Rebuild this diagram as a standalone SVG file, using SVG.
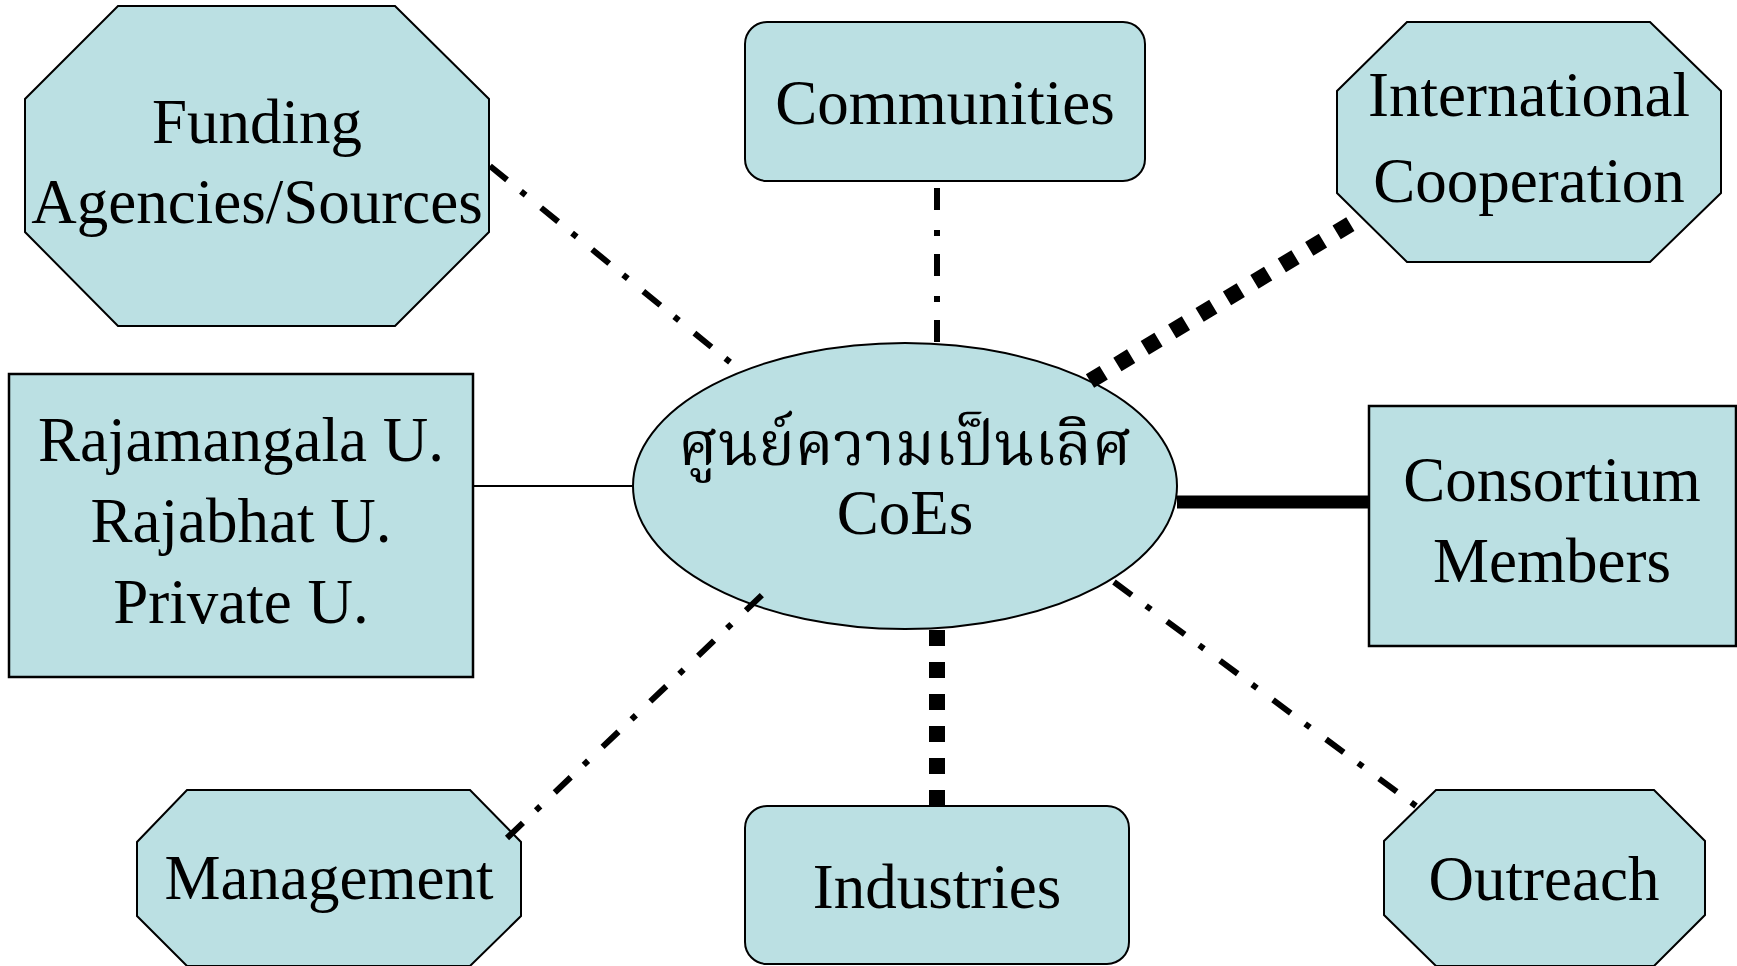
<svg xmlns="http://www.w3.org/2000/svg" width="1737" height="966" viewBox="0 0 1737 966">
<style>
.n{fill:#BBE0E3;stroke:#000;stroke-width:2}
.t{font-family:"Liberation Serif","Times New Roman",serif;font-size:63px;fill:#000;text-anchor:middle}
.th{font-family:"Liberation Serif","Noto Serif Thai","Noto Sans Thai","Noto Sans",serif;font-size:61px;fill:#000;text-anchor:middle}
.dd{fill:none;stroke:#000;stroke-width:6;stroke-dasharray:22 18 6 20}
.sq{fill:none;stroke:#000;stroke-width:16;stroke-dasharray:16 16}
</style>
<rect width="1737" height="966" fill="#fff"/>
<g id="center">
<ellipse class="n" cx="905" cy="486" rx="272" ry="143"/>
<text class="th" x="905" y="465">ศูนย์ความเป็นเลิศ</text>
<text class="t" x="905" y="534">CoEs</text>
</g>
<g id="funding">
<polygon class="n" points="118,6 395,6 489,99 489,232 395,326 118,326 25,232 25,99"/>
<text class="t" x="257" y="143">Funding</text>
<text class="t" x="257" y="223">Agencies/Sources</text>
</g>
<g id="communities">
<rect class="n" x="745" y="22" width="400" height="159" rx="22"/>
<text class="t" x="945" y="124">Communities</text>
</g>
<g id="international">
<polygon class="n" points="1407,22 1650,22 1721,91 1721,193 1650,262 1407,262 1337,193 1337,91"/>
<text class="t" x="1529" y="116">International</text>
<text class="t" x="1529" y="202">Cooperation</text>
</g>
<g id="universities">
<rect class="n" x="9" y="374" width="464" height="303" style="stroke-width:2.5"/>
<text class="t" x="241" y="461">Rajamangala U.</text>
<text class="t" x="241" y="542">Rajabhat U.</text>
<text class="t" x="241" y="623">Private U.</text>
</g>
<g id="consortium">
<rect class="n" x="1369" y="406" width="367" height="240" style="stroke-width:2.5"/>
<text class="t" x="1552" y="501">Consortium</text>
<text class="t" x="1552" y="582">Members</text>
</g>
<g id="management">
<polygon class="n" points="187,790 470,790 521,842 521,916 470,966 187,966 137,916 137,842"/>
<text class="t" x="329" y="899">Management</text>
</g>
<g id="industries">
<rect class="n" x="745" y="806" width="384" height="158" rx="22"/>
<text class="t" x="937" y="908">Industries</text>
</g>
<g id="outreach">
<polygon class="n" points="1436,790 1654,790 1705,841 1705,915 1654,966 1436,966 1384,915 1384,841"/>
<text class="t" x="1544" y="900">Outreach</text>
</g>
<g id="connectors">
<line x1="473" y1="486" x2="633" y2="486" stroke="#000" stroke-width="2"/>
<line x1="1177" y1="502" x2="1369" y2="502" stroke="#000" stroke-width="13"/>
<line class="dd" x1="490" y1="166" x2="731" y2="363"/>
<line class="dd" x1="937" y1="342" x2="937" y2="182"/>
<line class="dd" x1="507" y1="838" x2="762" y2="595"/>
<line class="dd" x1="1114" y1="582" x2="1416" y2="806"/>
<line class="sq" x1="1090" y1="381" x2="1362" y2="217"/>
<line x1="937" y1="630" x2="937" y2="806" stroke="#000" stroke-width="16" stroke-dasharray="16 16"/>
</g>
</svg>
